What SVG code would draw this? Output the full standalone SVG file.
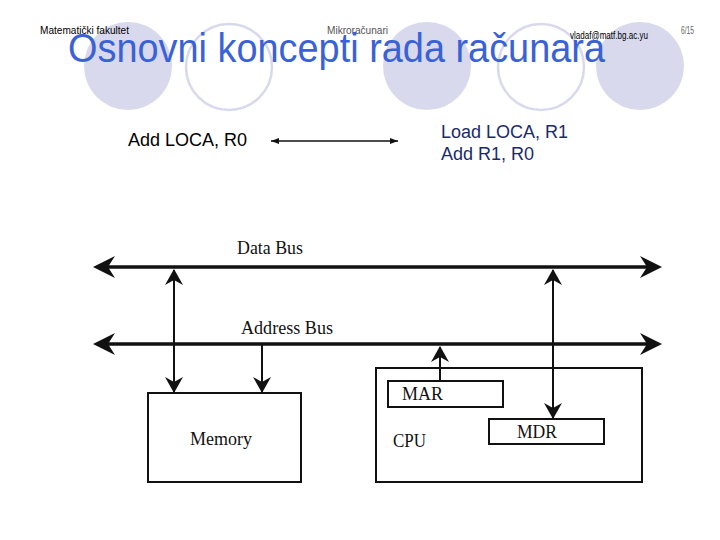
<svg xmlns="http://www.w3.org/2000/svg" width="720" height="540" viewBox="0 0 720 540">
<style>
.deco-f{fill:#d9d9ee;}
.deco-o{fill:none;stroke:#d9d9ee;stroke-width:2.5;}
.hdr{font-family:"Liberation Sans",Arial,sans-serif;font-size:10px;}
.title{font-family:"Liberation Sans",Arial,sans-serif;font-size:41px;fill:#3a62d8;}
.code{font-family:"Liberation Sans",Arial,sans-serif;font-size:18px;}
.lbl{font-family:"Liberation Serif","Times New Roman",serif;font-size:18px;fill:#111;}
.box{fill:#fff;stroke:#111;stroke-width:2;}
.bus{stroke:#111;stroke-width:3.5;fill:none;}
.wire{stroke:#111;stroke-width:2;fill:none;}
</style>
<defs>
<marker id="busArrow" markerUnits="userSpaceOnUse" markerWidth="26" markerHeight="26" viewBox="-24 -13 26 26" refX="-4" refY="0" orient="auto-start-reverse">
<path d="M0,0 L-22,-11 L-15,0 L-22,11 Z" fill="#111"/>
</marker>
<marker id="wireArrow" markerUnits="userSpaceOnUse" markerWidth="20" markerHeight="20" viewBox="-18 -10 20 20" refX="-1" refY="0" orient="auto-start-reverse">
<path d="M0,0 L-16,-9 L-11,0 L-16,9 Z" fill="#111"/>
</marker>
<marker id="thinArrow" markerUnits="userSpaceOnUse" markerWidth="10" markerHeight="8" viewBox="-9 -4 10 8" refX="0" refY="0" orient="auto-start-reverse">
<path d="M0,0 L-8,-3 L-8,3 Z" fill="#111"/>
</marker>
</defs>
<rect width="720" height="540" fill="#fff"/>
<g id="decoration">
<ellipse class="deco-f" cx="128" cy="66" rx="44" ry="44"/>
<ellipse class="deco-o" cx="229" cy="67" rx="43" ry="43"/>
<ellipse class="deco-f" cx="427" cy="66" rx="44" ry="44"/>
<ellipse class="deco-o" cx="541" cy="67" rx="43" ry="43"/>
<ellipse class="deco-f" cx="640" cy="66" rx="44" ry="44"/>
</g>
<g id="header">
<text class="hdr" x="40" y="34" fill="#000" textLength="89" lengthAdjust="spacingAndGlyphs">Matematički fakultet</text>
<text class="hdr" x="327" y="34" fill="#555" textLength="61" lengthAdjust="spacingAndGlyphs">Mikroračunari</text>
<text class="hdr" x="570" y="39" fill="#000" font-size="9" textLength="78" lengthAdjust="spacingAndGlyphs">vladaf@matf.bg.ac.yu</text>
<text class="hdr" x="681" y="34" fill="#666" font-size="9" textLength="13" lengthAdjust="spacingAndGlyphs">6/15</text>
<text class="title" x="68" y="62" textLength="537" lengthAdjust="spacingAndGlyphs">Osnovni koncepti rada računara</text>
</g>
<g id="instr-left">
<text class="code" x="128" y="146" fill="#000">Add LOCA, R0</text>
</g>
<g id="instr-right">
<text class="code" x="441" y="138" fill="#1a2a6e">Load LOCA, R1</text>
<text class="code" x="441" y="160" fill="#1a2a6e">Add R1, R0</text>
</g>
<g id="bus-labels">
<text class="lbl" x="237" y="254" textLength="66" lengthAdjust="spacingAndGlyphs">Data Bus</text>
<text class="lbl" x="241" y="334" textLength="92" lengthAdjust="spacingAndGlyphs">Address Bus</text>
</g>
<g id="memory">
<rect class="box" x="148" y="393" width="153" height="89"/>
<text class="lbl" x="190" y="445" textLength="62" lengthAdjust="spacingAndGlyphs">Memory</text>
</g>
<g id="cpu">
<rect class="box" x="376" y="368" width="266" height="114"/>
<text class="lbl" x="393" y="447" textLength="33" lengthAdjust="spacingAndGlyphs">CPU</text>
</g>
<g id="mar">
<rect class="box" x="388" y="381" width="115" height="26"/>
<text class="lbl" x="402" y="400" textLength="41" lengthAdjust="spacingAndGlyphs">MAR</text>
</g>
<g id="mdr">
<rect class="box" x="489" y="419" width="115" height="25"/>
<text class="lbl" x="517" y="438" textLength="40" lengthAdjust="spacingAndGlyphs">MDR</text>
</g>
<g id="connectors">
<line x1="271" y1="141" x2="398" y2="141" stroke="#111" stroke-width="1.5" marker-start="url(#thinArrow)" marker-end="url(#thinArrow)"/>
<line class="bus" x1="97" y1="267" x2="658" y2="267" marker-start="url(#busArrow)" marker-end="url(#busArrow)"/>
<line class="bus" x1="97" y1="344" x2="658" y2="344" marker-start="url(#busArrow)" marker-end="url(#busArrow)"/>
<line class="wire" x1="174" y1="270" x2="174" y2="392" marker-start="url(#wireArrow)" marker-end="url(#wireArrow)"/>
<line class="wire" x1="262" y1="345" x2="262" y2="392" marker-end="url(#wireArrow)"/>
<line class="wire" x1="440" y1="380" x2="440" y2="347" marker-end="url(#wireArrow)"/>
<line class="wire" x1="553" y1="270" x2="553" y2="418" marker-start="url(#wireArrow)" marker-end="url(#wireArrow)"/>
</g>
</svg>
